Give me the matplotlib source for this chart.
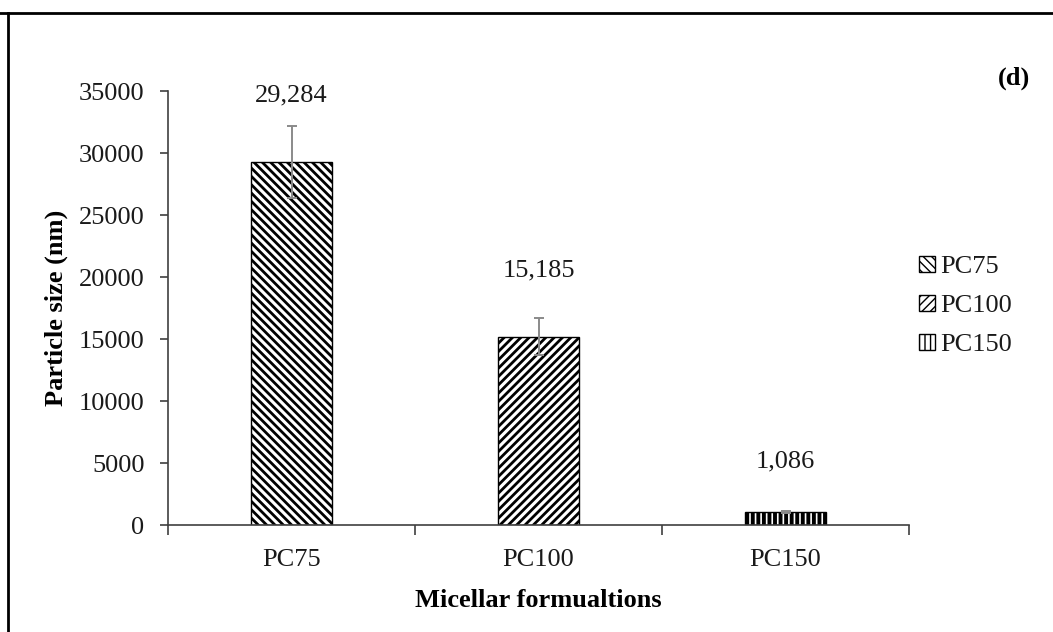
import matplotlib
matplotlib.use("Agg")
import matplotlib.pyplot as plt
from matplotlib.patches import Patch
from matplotlib.lines import Line2D

categories = ["PC75", "PC100", "PC150"]
values = [29284, 15185, 1086]
errors = [2900, 1500, 80]
value_labels = ["29,284", "15,185", "1,086"]
hatches = ["\\\\\\\\", "////", "|||"]
hatch_lw = [2.0, 2.0, 2.8]
yticks = [0, 5000, 10000, 15000, 20000, 25000, 30000, 35000]

plt.rcParams['font.family'] = ['Liberation Serif', 'DejaVu Serif']
plt.rcParams['hatch.color'] = 'black'

FS = 19
TXT = '#1a1a1a'

fig = plt.figure(figsize=(10.53, 6.32), dpi=100)
ax = fig.add_axes([168/1053, 1-525/632, (909-168)/1053, (525-91)/632])

x = list(range(len(categories)))
for xi, v, h, hl in zip(x, values, hatches, hatch_lw):
    with plt.rc_context({'hatch.linewidth': hl}):
        ax.bar([xi], [v], width=0.324, color='white', edgecolor='black',
               linewidth=1.0, hatch=h, zorder=2)
ax.errorbar(x, values, yerr=errors, fmt='none', ecolor='#8a8a8a',
            elinewidth=1.4, capsize=3.8, capthick=1.4, zorder=3)

offsets_px = [66, 66, 50]
for xi, v, lab, off in zip(x, values, value_labels, offsets_px):
    ax.annotate(lab, (xi, v), xytext=(0, off*0.72), textcoords='offset points',
                ha='center', va='center', fontsize=FS, color=TXT)

ax.set_xlim(-0.5, 2.5)
ax.set_ylim(0, 35000)
ax.set_yticks(yticks)
ax.set_yticklabels([str(t) for t in yticks], fontsize=FS, color=TXT)
ax.set_xticks([-0.5, 0.5, 1.5, 2.5])
ax.set_xticklabels([])
ax.set_xticks(x, minor=True)
ax.set_xticklabels(categories, minor=True, fontsize=FS, color=TXT)
ax.tick_params(axis='x', which='minor', length=0, pad=17)
ax.tick_params(axis='x', which='major', length=7, width=1.2, color='#404040', direction='out')
ax.tick_params(axis='y', length=6, width=1.2, color='#404040', pad=11)
for s in ['top', 'right']:
    ax.spines[s].set_visible(False)
for s in ['left', 'bottom']:
    ax.spines[s].set_color('#404040')
    ax.spines[s].set_linewidth(1.2)

ax.set_ylabel("Particle size (nm)", fontsize=FS, fontweight='bold', labelpad=8, color='black')
ax.set_xlabel("Micellar formualtions", fontsize=FS, fontweight='bold', labelpad=13, color='black')

handles = []
for h, hl in zip(hatches, hatch_lw):
    with plt.rc_context({'hatch.linewidth': hl * 0.9}):
        handles.append(Patch(facecolor='white', edgecolor='black', hatch=h, linewidth=1.0))
leg = fig.legend(handles, categories, loc='center left', bbox_to_anchor=(919/1053, 1-306/632),
                 frameon=False, fontsize=FS, handlelength=0.6, handleheight=0.6,
                 handletextpad=0.2, labelspacing=0.62, borderpad=0, borderaxespad=0)
for t in leg.get_texts():
    t.set_color(TXT)

fig.text(1030/1053, 1-78/632, "(d)", fontsize=FS, fontweight='bold', ha='right', va='center')

# panel frame
fig.add_artist(Line2D([0, 1], [1-13/632, 1-13/632], transform=fig.transFigure, color='black', lw=2))
fig.add_artist(Line2D([8/1053, 8/1053], [0, 1-13/632], transform=fig.transFigure, color='black', lw=2))

fig.savefig("out.png", dpi=100)
